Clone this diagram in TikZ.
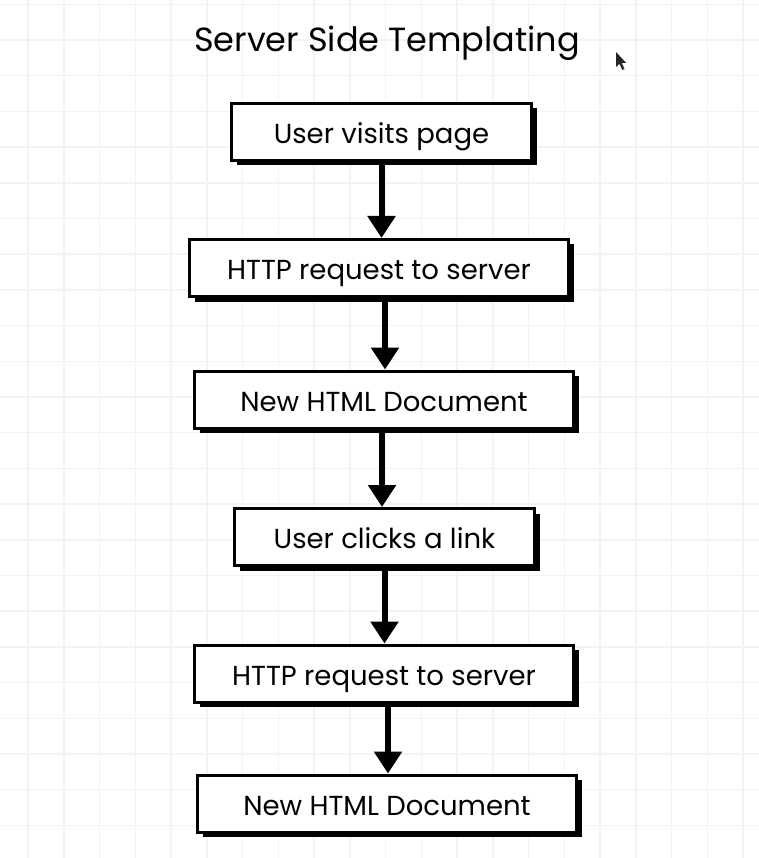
\documentclass[tikz,border=0pt]{standalone}
\usepackage{fontspec}
\setmainfont{Poppins}
\usetikzlibrary{arrows.meta,shadows}
\definecolor{gridgray}{RGB}{243,243,243}
\tikzstyle{gridline} = [draw=gridgray, line width=1.5pt]
\tikzstyle{box} = [draw, line width=3pt, fill=white, minimum height=57pt, inner sep=0pt,
  text height=24pt, text depth=1pt,
  drop shadow={shadow xshift=5pt, shadow yshift=-5pt, fill=black, opacity=1},
  font=\fontsize{27.5}{32}\selectfont]
\tikzstyle{arrow} = [draw, line width=6pt, -{Triangle[width=27pt,length=22pt]}]

\begin{document}
\begin{tikzpicture}[x=1pt,y=-1pt]
\fill[white] (0,0) rectangle (759,858);
\useasboundingbox (0,0) rectangle (759,858);
\foreach \x in {0,...,20} \draw[gridline] ({28+35.75*\x},0) -- ({28+35.75*\x},858);
\foreach \y in {0,...,23} \draw[gridline] (0,{4.3+35.7*\y}) -- (759,{4.3+35.7*\y});
\node[font=\fontsize{33.5}{40}\selectfont] (title) at (387,43) {Server Side Templating};
\node[box, minimum width=300pt] (visit) at (381.5,132) {User visits page};
\node[box, minimum width=379pt] (req1) at (379,268) {HTTP request to server};
\node[box, minimum width=379pt] (doc1) at (384,399.5) {New HTML Document};
\node[box, minimum width=300pt] (click) at (384.5,537) {User clicks a link};
\node[box, minimum width=379pt] (req2) at (384,673.5) {HTTP request to server};
\node[box, minimum width=379pt] (doc2) at (387,803.5) {New HTML Document};
\draw [arrow] (visit.south) -- (visit.south |- req1.north);
\draw [arrow] ([xshift=6pt]req1.south) -- ([xshift=6pt]req1.south |- doc1.north);
\draw [arrow] ([xshift=-2pt]doc1.south) -- ([xshift=-2pt]doc1.south |- click.north);
\draw [arrow] (click.south) -- (click.south |- req2.north);
\draw [arrow] ([xshift=4pt]req2.south) -- ([xshift=4pt]req2.south |- doc2.north);
\fill[black!85] (616,52) -- (616,67) -- (619.5,63.8) -- (622.3,70) -- (624.5,69) -- (621.8,63) -- (626.2,63) -- cycle;
\end{tikzpicture}
\end{document}
